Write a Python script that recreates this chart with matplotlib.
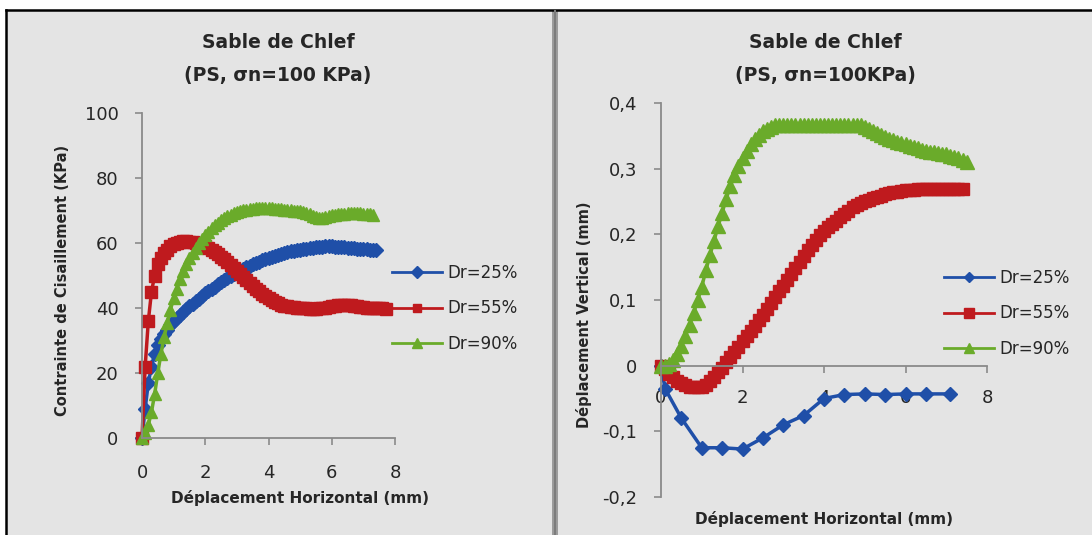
import matplotlib
matplotlib.use("Agg")
import matplotlib.pyplot as plt
from matplotlib.patches import Rectangle
from matplotlib.lines import Line2D

# horizontal displacement steps (mm), shared by the dense series
DISP = [0.0, 0.1, 0.2, 0.3, 0.4, 0.5, 0.6, 0.7, 0.8, 0.9,
        1.0, 1.1, 1.2, 1.3, 1.4, 1.5, 1.6, 1.7, 1.8, 1.9,
        2.0, 2.1, 2.2, 2.3, 2.4, 2.5, 2.6, 2.7, 2.8, 2.9,
        3.0, 3.1, 3.2, 3.3, 3.4, 3.5, 3.6, 3.7, 3.8, 3.9,
        4.0, 4.1, 4.2, 4.3, 4.4, 4.5, 4.6, 4.7, 4.8, 4.9,
        5.0, 5.1, 5.2, 5.3, 5.4, 5.5, 5.6, 5.7, 5.8, 5.9,
        6.0, 6.1, 6.2, 6.3, 6.4, 6.5, 6.6, 6.7, 6.8, 6.9,
        7.0, 7.1, 7.2, 7.3, 7.4, 7.5, 7.6, 7.7]

# shear stress (KPa)
TAU_25 = [0, 9, 17, 22, 26, 28.5, 30.5, 32, 33.3, 34.7,
          36, 37, 37.9, 38.8, 39.7, 40.5, 41.3, 42.1, 42.9, 43.7,
          44.5, 45.2, 45.9, 46.6, 47.3, 48, 48.6, 49.2, 49.8, 50.4,
          51, 51.5, 52, 52.5, 53, 53.5, 53.9, 54.3, 54.7, 55.1,
          55.5, 55.8, 56.1, 56.4, 56.7, 57, 57.2, 57.4, 57.6, 57.8,
          58, 58.1, 58.3, 58.4, 58.6, 58.7, 58.8, 58.9, 59, 59,
          59, 58.9, 58.8, 58.7, 58.7, 58.6, 58.5, 58.4, 58.3, 58.3,
          58.2, 58.1, 58, 57.9, 57.8]
TAU_55 = [0, 22, 36, 45, 50, 53.5, 55.5, 57, 58, 59,
          59.6, 60, 60.3, 60.5, 60.5, 60.4, 60.2, 60, 59.7, 59.4,
          59, 58.5, 58, 57.3, 56.6, 55.8, 55, 54.1, 53.2, 52.3,
          51.4, 50.5, 49.5, 48.6, 47.7, 46.8, 46, 45.2, 44.4, 43.7,
          43, 42.4, 41.9, 41.4, 41, 40.7, 40.5, 40.3, 40.2, 40.1,
          40, 40, 39.9, 39.8, 39.8, 39.8, 39.9, 40, 40.1, 40.3,
          40.5, 40.7, 40.9, 41, 41, 41, 40.9, 40.7, 40.5, 40.3,
          40.2, 40.1, 40, 40, 40, 39.9, 39.9, 39.8]
TAU_90 = [0, 1.5, 4, 8, 13.5, 20, 26, 31, 35.5, 39.5,
          43, 46, 49, 51.5, 53.5, 55.3, 57, 58.5, 60, 61.3,
          62.5, 63.5, 64.5, 65.4, 66.2, 67, 67.6, 68.2, 68.7, 69.1,
          69.5, 69.8, 70.1, 70.3, 70.5, 70.6, 70.7, 70.8, 70.8, 70.8,
          70.8, 70.7, 70.6, 70.5, 70.4, 70.3, 70.2, 70.1, 70, 69.9,
          69.7, 69.5, 69.2, 68.8, 68.3, 67.9, 67.7, 67.7, 67.9, 68.2,
          68.5, 68.7, 68.9, 69, 69, 69.1, 69.1, 69.1, 69.1, 69.1,
          69, 68.9, 68.8, 68.6]

# vertical displacement (mm)
DV_25_X = [0.0, 0.1, 0.5, 1.0, 1.5, 2.0, 2.5, 3.0, 3.5, 4.0,
           4.5, 5.0, 5.5, 6.0, 6.5, 7.1]
DV_25 = [0, -0.035, -0.08, -0.125, -0.125, -0.127, -0.11, -0.09, -0.076, -0.05,
         -0.044, -0.043, -0.044, -0.043, -0.043, -0.043]
DV_55 = [0, -0.005, -0.012, -0.018, -0.023, -0.027, -0.03, -0.032, -0.033, -0.033,
         -0.032, -0.029, -0.024, -0.017, -0.01, -0.003, 0.005, 0.013, 0.021, 0.029,
         0.037, 0.045, 0.053, 0.061, 0.069, 0.077, 0.086, 0.095, 0.104, 0.113,
         0.122, 0.131, 0.14, 0.149, 0.158, 0.167, 0.176, 0.184, 0.192, 0.199,
         0.205, 0.211, 0.216, 0.221, 0.226, 0.231, 0.236, 0.241, 0.245, 0.248,
         0.251, 0.253, 0.255, 0.257, 0.259, 0.261, 0.263, 0.264, 0.265, 0.266,
         0.267, 0.268, 0.268, 0.269, 0.269, 0.269, 0.269, 0.269, 0.269, 0.269,
         0.269, 0.269, 0.269, 0.269, 0.269]
DV_90 = [0, 0, 0.002, 0.008, 0.018, 0.03, 0.045, 0.062, 0.08, 0.1,
         0.12, 0.145, 0.168, 0.19, 0.212, 0.233, 0.254, 0.273, 0.29, 0.304,
         0.316, 0.327, 0.337, 0.345, 0.352, 0.357, 0.361, 0.364, 0.366, 0.367,
         0.367, 0.367, 0.367, 0.367, 0.367, 0.367, 0.367, 0.367, 0.367, 0.367,
         0.367, 0.367, 0.367, 0.367, 0.367, 0.367, 0.367, 0.367, 0.367, 0.367,
         0.364, 0.361, 0.357, 0.354, 0.351, 0.348, 0.345, 0.343, 0.341, 0.339,
         0.337, 0.335, 0.333, 0.331, 0.329, 0.327, 0.326, 0.325, 0.324, 0.323,
         0.322, 0.32, 0.318, 0.316, 0.313, 0.31]

LABELS = ["Dr=25%", "Dr=55%", "Dr=90%"]
COLORS = ["#1f4fa8", "#bf1a1e", "#6aab2a"]
MARKERS = ["D", "s", "^"]

X_TICKS = [0, 2, 4, 6, 8]
TAU_TICKS = [0, 20, 40, 60, 80, 100]
DV_TICKS = [-0.2, -0.1, 0, 0.1, 0.2, 0.3, 0.4]
DV_TICK_LABELS = ["-0,2", "-0,1", "0", "0,1", "0,2", "0,3", "0,4"]

W, H = 1092, 535
BG = "#e4e4e4"
AXIS_GREY = "#8a8a8a"
TXT = "#262626"


def fx(px):
    return px / W


def fy(py):
    return 1 - py / H


def style_axes(ax):
    ax.set_facecolor("none")
    for s in ("top", "right"):
        ax.spines[s].set_visible(False)
    for s in ("left", "bottom"):
        ax.spines[s].set_color(AXIS_GREY)
        ax.spines[s].set_linewidth(1.3)
    ax.tick_params(direction="out", length=5, width=1.2, color=AXIS_GREY,
                   labelsize=13, labelcolor=TXT)
    ax.tick_params(axis="y", pad=12)


fig = plt.figure(figsize=(W / 100, H / 100), dpi=100)
fig.patch.set_facecolor("white")
fig.patches.append(Rectangle((fx(6), 0), 1 - fx(6), fy(10), transform=fig.transFigure,
                             facecolor=BG, edgecolor="none", zorder=-5))
fig.add_artist(Line2D([fx(6), 1], [fy(10), fy(10)], color="black", lw=1.8))
fig.add_artist(Line2D([fx(6), fx(6)], [0, fy(10)], color="black", lw=1.8))
# double rule between the two charts
fig.patches.append(Rectangle((fx(552), 0), fx(6), fy(11), transform=fig.transFigure,
                             facecolor="#9c9c9c", edgecolor="none"))
fig.add_artist(Line2D([fx(555), fx(555)], [0, fy(11)], color="#7c7c7c", lw=1.5))

# ---- left: shear stress ----
ax1 = fig.add_axes([fx(142), fy(438), fx(395) - fx(142), fy(113) - fy(438)])
style_axes(ax1)
ax1.tick_params(axis="x", pad=14)
handles1 = []
for ys, lab, c, m, ms in zip([TAU_25, TAU_55, TAU_90], LABELS, COLORS, MARKERS, [7.5, 8.5, 9]):
    h, = ax1.plot(DISP[:len(ys)], ys, color=c, lw=2.5, marker=m, ms=ms,
                  mec=c, mfc=c, label=lab, clip_on=False)
    handles1.append(h)
ax1.set_xlim(0, 8)
ax1.set_ylim(0, 100)
ax1.set_xticks(X_TICKS)
ax1.set_yticks(TAU_TICKS)

# ---- right: vertical displacement ----
ax2 = fig.add_axes([fx(661), fy(497), fx(987) - fx(661), fy(103) - fy(497)])
style_axes(ax2)
ax2.spines["bottom"].set_position(("data", 0))
ax2.tick_params(axis="x", pad=12)
handles2 = []
for xs, ys, lab, c, m, ms in zip([DV_25_X, DISP, DISP], [DV_25, DV_55, DV_90],
                                 LABELS, COLORS, MARKERS, [7, 9, 9.5]):
    h, = ax2.plot(xs[:len(ys)], ys, color=c, lw=2.5, marker=m, ms=ms,
                  mec=c, mfc=c, label=lab, clip_on=False)
    handles2.append(h)
ax2.set_xlim(0, 8)
ax2.set_ylim(-0.2, 0.4)
ax2.set_xticks(X_TICKS)
ax2.set_yticks(DV_TICKS)
ax2.set_yticklabels(DV_TICK_LABELS)

# legends
for handles, px, py in [(handles1, 392, 264), (handles2, 944, 269)]:
    leg = fig.legend(handles=handles, loc="upper left",
                     bbox_to_anchor=(fx(px), fy(py)), frameon=False,
                     fontsize=12, handlelength=3.0, handletextpad=0.3,
                     labelspacing=1.05, borderpad=0, borderaxespad=0,
                     numpoints=1, markerscale=0.75)
    for t in leg.get_texts():
        t.set_color(TXT)
    for ln in leg.get_lines():
        ln.set_linewidth(2)

# titles and axis labels
for cx, sub in [(278, "(PS, σn=100 KPa)"), (825, "(PS, σn=100KPa)")]:
    fig.text(fx(cx), fy(42), "Sable de Chlef", ha="center", va="center",
             fontsize=13.5, fontweight="bold", color=TXT)
    fig.text(fx(cx), fy(75), sub, ha="center", va="center",
             fontsize=13.5, fontweight="bold", color=TXT)

fig.text(fx(300), fy(498), "Déplacement Horizontal (mm)", ha="center", va="center",
         fontsize=11, fontweight="bold", color=TXT)
fig.text(fx(824), fy(519), "Déplacement Horizontal (mm)", ha="center", va="center",
         fontsize=11, fontweight="bold", color=TXT)
fig.text(fx(63), fy(280), "Contrainte de Cisaillement (KPa)", ha="center", va="center",
         rotation=90, fontsize=10.5, fontweight="bold", color=TXT)
fig.text(fx(584), fy(315), "Déplacement Vertical (mm)", ha="center", va="center",
         rotation=90, fontsize=10.5, fontweight="bold", color=TXT)

fig.savefig("out.png", dpi=100, facecolor=fig.get_facecolor())
